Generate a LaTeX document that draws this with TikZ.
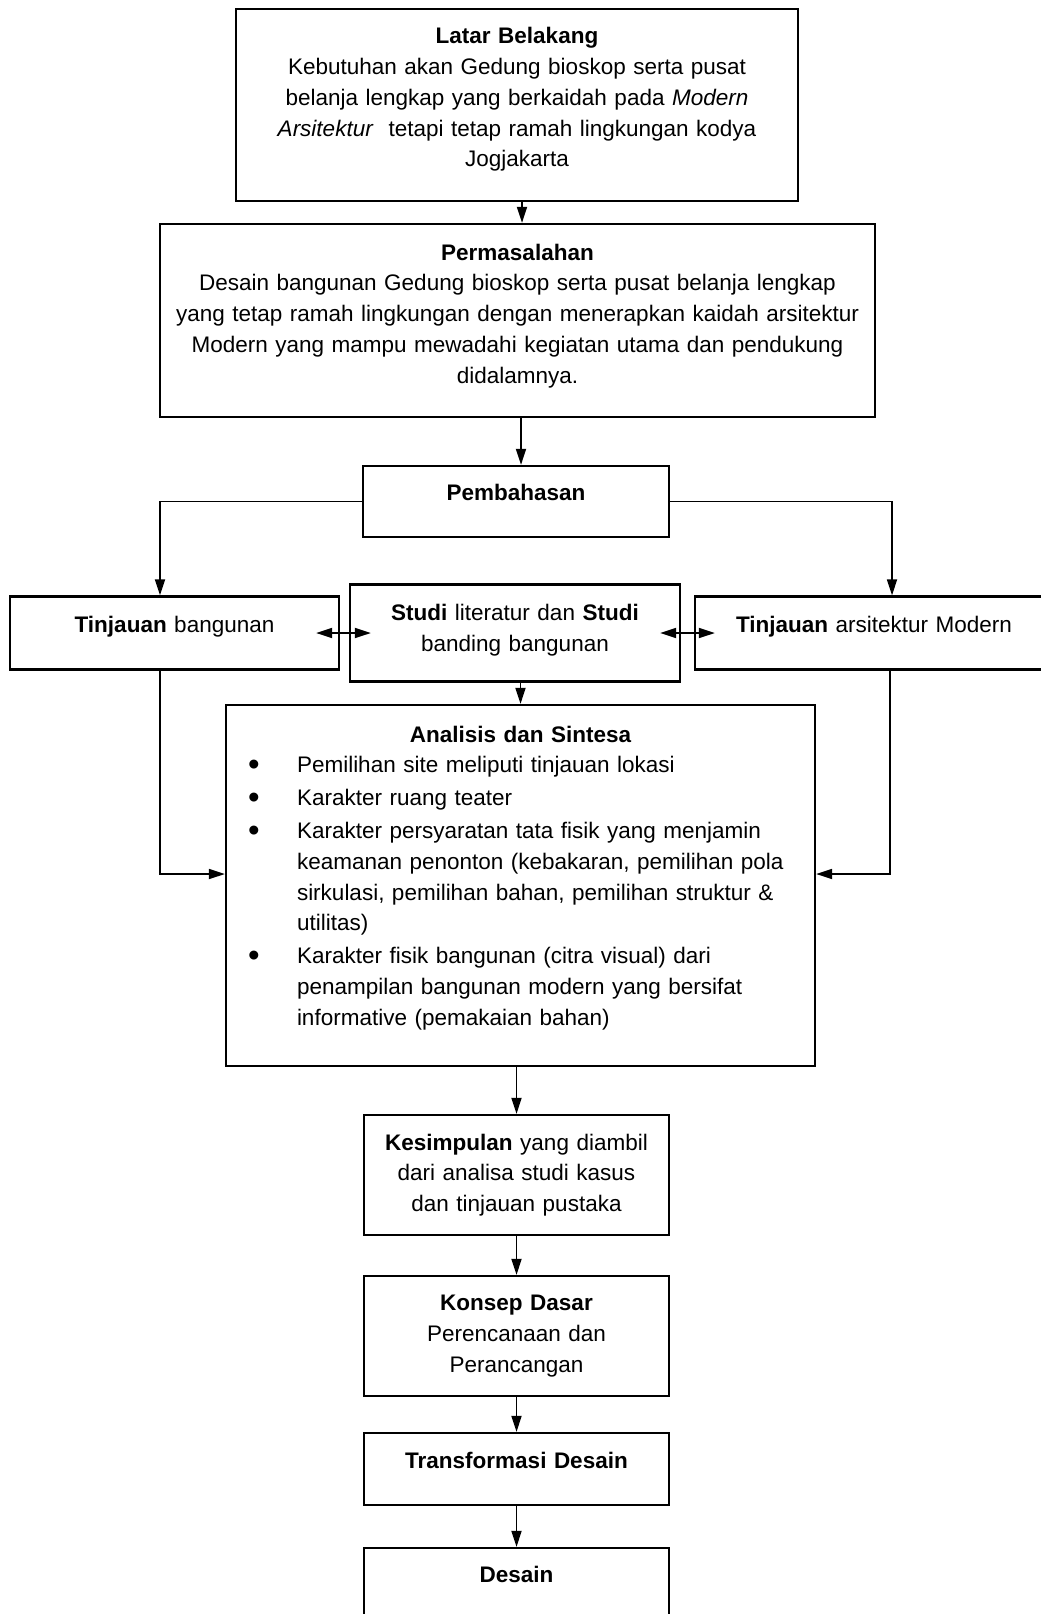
\documentclass[tikz,border=0pt]{standalone}
\usepackage{fontspec}
\setmainfont{Liberation Sans}
\usetikzlibrary{arrows.meta}
\newcommand{\titik}{\raisebox{-2.7pt}{\fontsize{33}{33}\selectfont\textbullet}}
\newenvironment{butir}{\begin{list}{\titik\hfill}{\setlength{\leftmargin}{49pt}\setlength{\labelsep}{0pt}\setlength{\labelwidth}{49pt}\setlength{\topsep}{0pt}\setlength{\partopsep}{0pt}\setlength{\itemsep}{2pt}\setlength{\parsep}{0pt}}}{\end{list}}

\begin{document}
\begin{tikzpicture}[x=1pt,y=-1pt,
		every node/.style={font=\fontsize{22.5}{30.8}\selectfont},
		box/.style={draw=black,line width=2.2pt,align=center,inner xsep=6pt,inner ysep=0pt},
		link/.style={line width=1.8pt,-{Triangle[length=16pt,width=10pt]}},
		duallink/.style={line width=1.8pt,{Triangle[length=16pt,width=10pt]}-{Triangle[length=16pt,width=10pt]}}]
		\useasboundingbox (0,0) rectangle (1041,1614);
		
		% Latar belakang & permasalahan
		\node[box,text width=550pt,minimum height=192pt,text depth=139pt] (latar) at (517,105) {\textbf{Latar Belakang}\\ Kebutuhan akan Gedung bioskop serta pusat\\ belanja lengkap yang berkaidah pada \textit{Modern}\\ \textit{Arsitektur}\ \ tetapi tetap ramah lingkungan kodya\\ Jogjakarta};
		\node[box,text width=703pt,minimum height=193pt,text depth=137pt] (masalah) at (517.5,320.5) {\textbf{Permasalahan}\\ Desain bangunan Gedung bioskop serta pusat belanja lengkap\\ yang tetap ramah lingkungan dengan menerapkan kaidah arsitektur\\ Modern yang mampu mewadahi kegiatan utama dan pendukung\\ didalamnya.};
		\node[box,text width=294pt,minimum height=71pt,text depth=19pt] (bahas) at (516,501.5) {\textbf{Pembahasan}};
		
		% Tinjauan & studi
		\node[box,text width=317pt,minimum height=73pt,text depth=17pt] (tbangun) at (174.5,633) {\textbf{Tinjauan} bangunan};
		\node[box,text width=318pt,minimum height=97pt,text depth=41pt] (studi) at (515,633) {\textbf{Studi} literatur dan \textbf{Studi}\\ banding bangunan};
		\node[box,text width=346pt,minimum height=73pt,text depth=17pt] (tarsi) at (874,633) {\textbf{Tinjauan} arsitektur Modern};
		
		% Analisis
		\node[box,align=left,inner xsep=22pt,text width=545pt,minimum height=361pt,text depth=303pt] (analisis) at (520.5,885.5) {\centerline{\textbf{Analisis dan Sintesa}}
			\begin{butir}
				\item Pemilihan site meliputi tinjauan lokasi
				\item Karakter ruang teater
				\item Karakter persyaratan tata fisik yang menjamin\newline keamanan penonton (kebakaran, pemilihan pola\newline sirkulasi, pemilihan bahan, pemilihan struktur \&\newline utilitas)
				\item Karakter fisik bangunan (citra visual) dari\newline penampilan bangunan modern yang bersifat\newline informative (pemakaian bahan)
		\end{butir}};
		
		% Kesimpulan s/d desain
		\node[box,text width=293pt,minimum height=120pt,text depth=66pt] (simpul) at (516.5,1175) {\textbf{Kesimpulan} yang diambil\\ dari analisa studi kasus\\ dan tinjauan pustaka};
		\node[box,text width=293pt,minimum height=120pt,text depth=66pt] (konsep) at (516.5,1336) {\textbf{Konsep Dasar}\\ Perencanaan dan\\ Perancangan};
		\node[box,text width=293pt,minimum height=72pt,text depth=18pt] (transf) at (516.5,1469) {\textbf{Transformasi Desain}};
		\node[box,text width=293pt,minimum height=72pt,text depth=20pt] (desain) at (516.5,1584) {\textbf{Desain}};
		
		% arrows
		\draw[link] ([xshift=5pt]latar.south) -- ([xshift=5pt]latar.south |- masalah.north);
		\draw[link] ([xshift=5pt]bahas.north |- masalah.south) -- ([xshift=5pt]bahas.north);
		\draw[link] (bahas.west) -| ([xshift=-14.5pt]tbangun.north);
		\draw[link] (bahas.east) -| ([xshift=18pt]tarsi.north);
		\draw[duallink] ([xshift=-24pt]tbangun.east) -- ([xshift=22pt]studi.west);
		\draw[duallink] ([xshift=-21pt]studi.east) -- ([xshift=21pt]tarsi.west);
		\draw[link] (analisis.north |- studi.south) -- (analisis.north);
		\draw[link] ([xshift=-14.5pt]tbangun.south) |- ([yshift=11.5pt]analisis.west);
		\draw[link] ([xshift=16pt]tarsi.south) |- ([yshift=11.5pt]analisis.east);
		\draw[link] (simpul.north |- analisis.south) -- (simpul.north);
		\draw[link] (simpul) -- (konsep);
		\draw[link] (konsep) -- (transf);
		\draw[link] (transf) -- (desain);
\end{tikzpicture}
\end{document}
